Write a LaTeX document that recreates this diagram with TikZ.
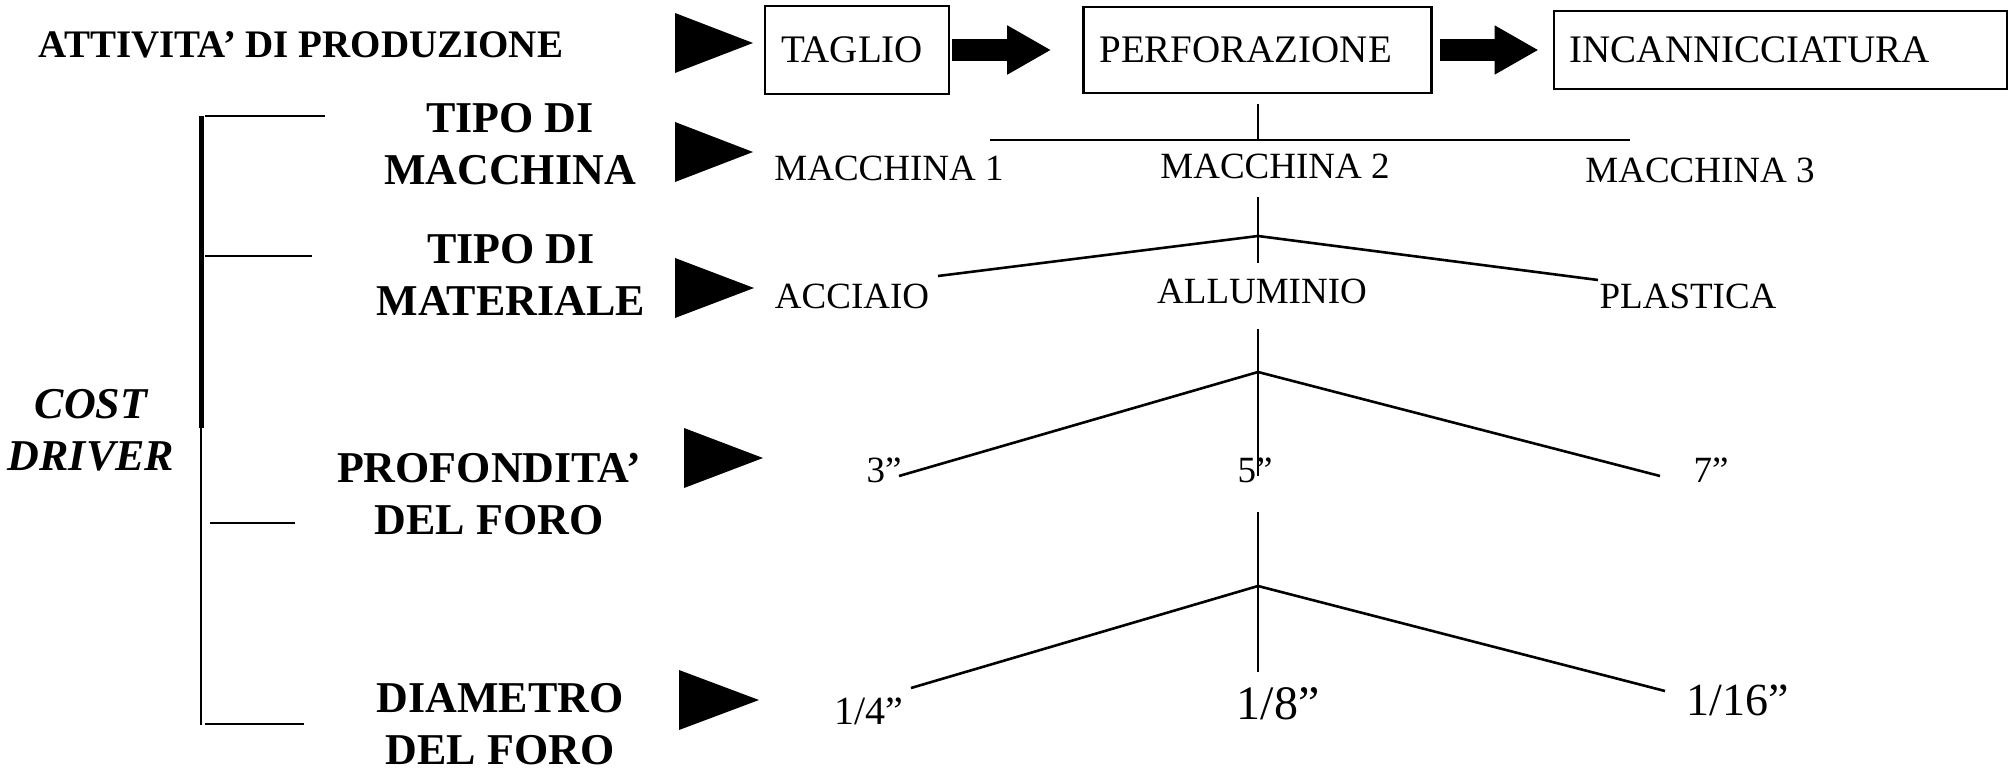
\documentclass[tikz,border=0pt]{standalone}
\usepackage{fontspec}
\setmainfont{Liberation Serif}
\usetikzlibrary{arrows.meta,positioning}

\tikzset{
  phase/.style={rectangle, draw=black, line width=1.2pt, inner xsep=8pt, inner ysep=0pt, align=left, font=\fontsize{19.5}{23}\selectfont},
  driver/.style={align=center, inner sep=0pt, font=\bfseries\fontsize{22}{26}\selectfont},
  choice/.style={inner sep=0pt, font=\fontsize{18.5}{22}\selectfont},
  bigarrow/.style={line width=11pt, -{Triangle[length=22pt,width=23pt]}},
  branch/.style={line width=1.3pt},
  stem/.style={line width=1pt},
  tick/.style={line width=1.4pt}
}

\begin{document}
\begin{tikzpicture}[x=0.5pt, y=-0.5pt]
\useasboundingbox (0,0) rectangle (2008,770);

% activities
\node (attivita) [inner sep=0pt, font=\bfseries\fontsize{19.5}{23}\selectfont] at (301,45) {ATTIVITA’ DI PRODUZIONE};
\node (taglio) [phase, text width=76pt, minimum height=44pt] at (857,50) {TAGLIO};
\node (perf) [phase, text width=158pt, minimum height=43pt, right=66pt of taglio] {PERFORAZIONE};
\node (incann) [phase, text width=210.5pt, minimum height=39pt, right=60pt of perf] {INCANNICCIATURA};
\draw [bigarrow, shorten <=1pt, shorten >=15.5pt] (taglio) -- (perf);
\draw [bigarrow, shorten <=3.5pt, shorten >=7pt] (perf) -- (incann);

% pointers
\fill (675,13) -- (753,43) -- (675,73) -- cycle;
\fill (675,122) -- (753,152) -- (675,182) -- cycle;
\fill (675,258) -- (754,288) -- (675,318) -- cycle;
\fill (684,428) -- (763,458) -- (684,488) -- cycle;
\fill (679,670) -- (759,700) -- (679,730) -- cycle;

% cost driver bracket
\draw [line width=2.5pt] (201,116) -- (201,428);
\draw [line width=1pt] (201,428) -- (201,725);
\draw [tick] (205,116) -- (325,116);
\draw [tick] (205,256) -- (312,256);
\draw [tick] (210,523) -- (295,523);
\draw [tick] (205,724) -- (304,724);

\node (cost) [driver, font=\bfseries\itshape\fontsize{22}{26}\selectfont] at (91,430) {COST\\DRIVER};
\node (macchina) [driver] at (510,144) {TIPO DI\\MACCHINA};
\node (materiale) [driver] at (511,275) {TIPO DI\\MATERIALE};
\node (profondita) [driver] at (489,494) {PROFONDITA’\\DEL FORO};
\node (diametro) [driver] at (500,724) {DIAMETRO\\DEL FORO};

% choices
\node (mac1) [choice] at (889,168) {MACCHINA 1};
\node (mac2) [choice] at (1275,166) {MACCHINA 2};
\node (mac3) [choice] at (1700,170) {MACCHINA 3};
\node (acciaio) [choice] at (852,296) {ACCIAIO};
\node (allum) [choice] at (1262,291) {ALLUMINIO};
\node (plastica) [choice] at (1688,296) {PLASTICA};
\node (p3) [choice] at (884,470) {3”};
\node (p5) [choice] at (1255,470) {5”};
\node (p7) [choice] at (1711,470) {7”};
\node (d4) [choice, font=\fontsize{20}{24}\selectfont] at (869,711) {1/4”};
\node (d8) [choice, font=\fontsize{24}{28}\selectfont] at (1278,704) {1/8”};
\node (d16) [choice, font=\fontsize{23}{27}\selectfont] at (1738,700) {1/16”};

% tree
\coordinate (fork1) at (1258,140);
\coordinate (fork1l) at (990,140);
\coordinate (fork1r) at (1630,140);
\coordinate (fork2) at (1258,236);
\coordinate (fork2l) at (938,276);
\coordinate (fork2r) at (1598,280);
\coordinate (fork3) at (1258,372);
\coordinate (fork3l) at (899,476);
\coordinate (fork3r) at (1660,476);
\coordinate (fork4) at (1258,586);
\coordinate (fork4l) at (911,688);
\coordinate (fork4r) at (1665,691);

\draw [stem, shorten <=5pt] (perf.south -| fork1) -- (fork1);
\draw [branch] (fork1l) -- (fork1r);
\draw [stem, shorten <=9pt, shorten >=7.5pt] (mac2.south -| fork2) -- (allum.north -| fork2);
\draw [branch] (fork2l) -- (fork2) -- (fork2r);
\draw [stem, shorten <=12.5pt, shorten >=3.2pt] (allum.south -| fork3) -- (p5.south -| fork3);
\draw [branch] (fork3l) -- (fork3) -- (fork3r);
\draw [stem, shorten <=14.7pt, shorten >=7.5pt] (p5.south -| fork4) -- (d8.north -| fork4);
\draw [branch] (fork4l) -- (fork4) -- (fork4r);
\end{tikzpicture}
\end{document}
